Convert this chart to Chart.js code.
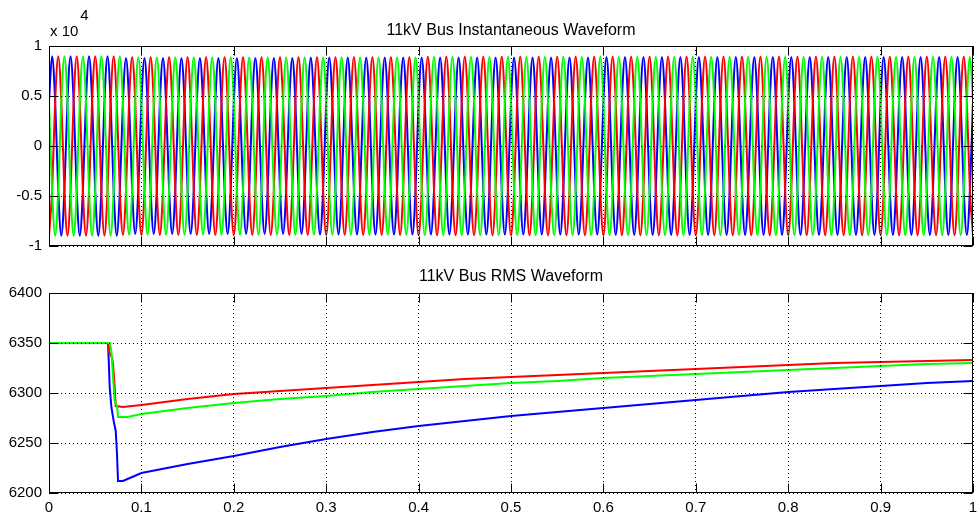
<!DOCTYPE html>
<html>
<head>
<meta charset="utf-8">
<script src="https://cdn.jsdelivr.net/npm/chart.js@4.4.1/dist/chart.umd.min.js"></script>
<style>
  html, body { margin: 0; padding: 0; background: #ffffff; }
  #wrap { position: relative; width: 977px; height: 518px; overflow: hidden; background: #ffffff; }
  canvas { position: absolute; left: 0; }
  #c1 { top: 0; }
  #c2 { top: 260px; }
</style>
</head>
<body>
<div id="wrap">
  <canvas id="c1" width="977" height="262"></canvas>
  <canvas id="c2" width="977" height="258"></canvas>
</div>
<script>
// ---------------- DATA ----------------
const instTitle = '11kV Bus Instantaneous Waveform';
const rmsTitle = '11kV Bus RMS Waveform';
const phaseNames = ['Phase R', 'Phase G', 'Phase B'];

const xTickValues = [0, 0.1, 0.2, 0.3, 0.4, 0.5, 0.6, 0.7, 0.8, 0.9, 1];
const xTickLabels = ['0', '0.1', '0.2', '0.3', '0.4', '0.5', '0.6', '0.7', '0.8', '0.9', '1'];
const instTickValues = [-1, -0.5, 0, 0.5, 1];
const instTickLabels = ['-1', '-0.5', '0', '0.5', '1'];
const instExponent = ['x 10', '4'];
const rmsTickValues = [6200, 6250, 6300, 6350, 6400];
const rmsTickLabels = ['6200', '6250', '6300', '6350', '6400'];

// instantaneous samples (x10^4 V), one sample every 1/300 s (60 deg of a 50 Hz cycle)
const instSampleStep = 1 / 300;
const instRed = [
  -0.898,-0.449,0.449,0.898,0.449,-0.449,-0.898,-0.449,0.449,0.898,0.449,-0.449,
  -0.898,-0.449,0.449,0.898,0.449,-0.449,-0.898,-0.449,0.449,0.898,0.449,-0.449,
  -0.89,-0.445,0.445,0.89,0.445,-0.445,-0.89,-0.445,0.445,0.89,0.445,-0.445,
  -0.89,-0.445,0.445,0.89,0.445,-0.445,-0.89,-0.445,0.445,0.89,0.445,-0.445,
  -0.89,-0.445,0.445,0.89,0.445,-0.445,-0.89,-0.445,0.445,0.89,0.445,-0.445,
  -0.89,-0.445,0.445,0.89,0.445,-0.445,-0.89,-0.445,0.445,0.89,0.445,-0.445,
  -0.89,-0.445,0.445,0.89,0.445,-0.445,-0.89,-0.445,0.445,0.89,0.445,-0.445,
  -0.89,-0.445,0.445,0.89,0.445,-0.445,-0.89,-0.445,0.445,0.89,0.445,-0.445,
  -0.89,-0.445,0.445,0.89,0.445,-0.445,-0.89,-0.445,0.445,0.89,0.445,-0.445,
  -0.89,-0.445,0.445,0.89,0.445,-0.445,-0.89,-0.445,0.445,0.89,0.445,-0.445,
  -0.894,-0.447,0.447,0.894,0.447,-0.447,-0.894,-0.447,0.447,0.894,0.447,-0.447,
  -0.894,-0.447,0.447,0.894,0.447,-0.447,-0.894,-0.447,0.447,0.894,0.447,-0.447,
  -0.894,-0.447,0.447,0.894,0.447,-0.447,-0.894,-0.447,0.447,0.894,0.447,-0.447,
  -0.894,-0.447,0.447,0.894,0.447,-0.447,-0.894,-0.447,0.447,0.894,0.447,-0.447,
  -0.894,-0.447,0.447,0.894,0.447,-0.447,-0.894,-0.447,0.447,0.894,0.447,-0.447,
  -0.894,-0.447,0.447,0.894,0.447,-0.447,-0.894,-0.447,0.447,0.894,0.447,-0.447,
  -0.894,-0.447,0.447,0.894,0.447,-0.447,-0.894,-0.447,0.447,0.894,0.447,-0.447,
  -0.894,-0.447,0.447,0.894,0.447,-0.447,-0.894,-0.447,0.447,0.894,0.447,-0.447,
  -0.894,-0.447,0.447,0.894,0.447,-0.447,-0.894,-0.447,0.447,0.894,0.447,-0.447,
  -0.894,-0.447,0.447,0.894,0.447,-0.447,-0.894,-0.447,0.447,0.894,0.447,-0.447,
  -0.894,-0.447,0.447,0.894,0.447,-0.447,-0.894,-0.447,0.447,0.894,0.447,-0.447,
  -0.894,-0.447,0.447,0.894,0.447,-0.447,-0.894,-0.447,0.447,0.894,0.447,-0.447,
  -0.894,-0.447,0.447,0.894,0.447,-0.447,-0.894,-0.447,0.447,0.894,0.447,-0.447,
  -0.894,-0.447,0.447,0.894,0.447,-0.447,-0.894,-0.447,0.447,0.894,0.447,-0.447,
  -0.894,-0.447,0.447,0.894,0.447,-0.447,-0.894,-0.447,0.447,0.894,0.447,-0.447,
  -0.894
];
const instGreen = [
  0.449,-0.449,-0.898,-0.449,0.449,0.898,0.449,-0.449,-0.898,-0.449,0.449,0.898,
  0.449,-0.449,-0.898,-0.449,0.449,0.898,0.449,-0.449,-0.898,-0.449,0.449,0.898,
  0.444,-0.444,-0.888,-0.444,0.444,0.888,0.444,-0.444,-0.888,-0.444,0.444,0.888,
  0.444,-0.444,-0.888,-0.444,0.444,0.888,0.444,-0.444,-0.888,-0.444,0.444,0.888,
  0.444,-0.444,-0.888,-0.444,0.444,0.888,0.444,-0.444,-0.888,-0.444,0.444,0.888,
  0.444,-0.444,-0.888,-0.444,0.444,0.888,0.444,-0.444,-0.888,-0.444,0.444,0.888,
  0.444,-0.444,-0.888,-0.444,0.444,0.888,0.444,-0.444,-0.888,-0.444,0.444,0.888,
  0.444,-0.444,-0.888,-0.444,0.444,0.888,0.444,-0.444,-0.888,-0.444,0.444,0.888,
  0.444,-0.444,-0.888,-0.444,0.444,0.888,0.444,-0.444,-0.888,-0.444,0.444,0.888,
  0.444,-0.444,-0.888,-0.444,0.444,0.888,0.444,-0.444,-0.888,-0.444,0.444,0.888,
  0.447,-0.447,-0.893,-0.447,0.447,0.893,0.447,-0.447,-0.893,-0.447,0.447,0.893,
  0.447,-0.447,-0.893,-0.447,0.447,0.893,0.447,-0.447,-0.893,-0.447,0.447,0.893,
  0.447,-0.447,-0.893,-0.447,0.447,0.893,0.447,-0.447,-0.893,-0.447,0.447,0.893,
  0.447,-0.447,-0.893,-0.447,0.447,0.893,0.447,-0.447,-0.893,-0.447,0.447,0.893,
  0.447,-0.447,-0.893,-0.447,0.447,0.893,0.447,-0.447,-0.893,-0.447,0.447,0.893,
  0.447,-0.447,-0.893,-0.447,0.447,0.893,0.447,-0.447,-0.893,-0.447,0.447,0.893,
  0.447,-0.447,-0.893,-0.447,0.447,0.893,0.447,-0.447,-0.893,-0.447,0.447,0.893,
  0.447,-0.447,-0.893,-0.447,0.447,0.893,0.447,-0.447,-0.893,-0.447,0.447,0.893,
  0.447,-0.447,-0.893,-0.447,0.447,0.893,0.447,-0.447,-0.893,-0.447,0.447,0.893,
  0.447,-0.447,-0.893,-0.447,0.447,0.893,0.447,-0.447,-0.893,-0.447,0.447,0.893,
  0.447,-0.447,-0.893,-0.447,0.447,0.893,0.447,-0.447,-0.893,-0.447,0.447,0.893,
  0.447,-0.447,-0.893,-0.447,0.447,0.893,0.447,-0.447,-0.893,-0.447,0.447,0.893,
  0.447,-0.447,-0.893,-0.447,0.447,0.893,0.447,-0.447,-0.893,-0.447,0.447,0.893,
  0.447,-0.447,-0.893,-0.447,0.447,0.893,0.447,-0.447,-0.893,-0.447,0.447,0.893,
  0.447,-0.447,-0.893,-0.447,0.447,0.893,0.447,-0.447,-0.893,-0.447,0.447,0.893,
  0.447
];
const instBlue = [
  0.449,0.898,0.449,-0.449,-0.898,-0.449,0.449,0.898,0.449,-0.449,-0.898,-0.449,
  0.449,0.898,0.449,-0.449,-0.898,-0.449,0.449,0.898,0.449,-0.449,-0.898,-0.449,
  0.44,0.88,0.44,-0.44,-0.88,-0.44,0.44,0.88,0.44,-0.44,-0.88,-0.44,
  0.44,0.88,0.44,-0.44,-0.88,-0.44,0.44,0.88,0.44,-0.44,-0.88,-0.44,
  0.44,0.88,0.44,-0.44,-0.88,-0.44,0.44,0.88,0.44,-0.44,-0.88,-0.44,
  0.44,0.88,0.44,-0.44,-0.88,-0.44,0.44,0.88,0.44,-0.44,-0.88,-0.44,
  0.44,0.88,0.44,-0.44,-0.88,-0.44,0.44,0.88,0.44,-0.44,-0.88,-0.44,
  0.443,0.886,0.443,-0.443,-0.886,-0.443,0.443,0.886,0.443,-0.443,-0.886,-0.443,
  0.443,0.886,0.443,-0.443,-0.886,-0.443,0.443,0.886,0.443,-0.443,-0.886,-0.443,
  0.443,0.886,0.443,-0.443,-0.886,-0.443,0.443,0.886,0.443,-0.443,-0.886,-0.443,
  0.443,0.886,0.443,-0.443,-0.886,-0.443,0.443,0.886,0.443,-0.443,-0.886,-0.443,
  0.443,0.886,0.443,-0.443,-0.886,-0.443,0.443,0.886,0.443,-0.443,-0.886,-0.443,
  0.443,0.886,0.443,-0.443,-0.886,-0.443,0.443,0.886,0.443,-0.443,-0.886,-0.443,
  0.443,0.886,0.443,-0.443,-0.886,-0.443,0.443,0.886,0.443,-0.443,-0.886,-0.443,
  0.443,0.886,0.443,-0.443,-0.886,-0.443,0.443,0.886,0.443,-0.443,-0.886,-0.443,
  0.446,0.891,0.446,-0.446,-0.891,-0.446,0.446,0.891,0.446,-0.446,-0.891,-0.446,
  0.446,0.891,0.446,-0.446,-0.891,-0.446,0.446,0.891,0.446,-0.446,-0.891,-0.446,
  0.446,0.891,0.446,-0.446,-0.891,-0.446,0.446,0.891,0.446,-0.446,-0.891,-0.446,
  0.446,0.891,0.446,-0.446,-0.891,-0.446,0.446,0.891,0.446,-0.446,-0.891,-0.446,
  0.446,0.891,0.446,-0.446,-0.891,-0.446,0.446,0.891,0.446,-0.446,-0.891,-0.446,
  0.446,0.891,0.446,-0.446,-0.891,-0.446,0.446,0.891,0.446,-0.446,-0.891,-0.446,
  0.446,0.891,0.446,-0.446,-0.891,-0.446,0.446,0.891,0.446,-0.446,-0.891,-0.446,
  0.446,0.891,0.446,-0.446,-0.891,-0.446,0.446,0.891,0.446,-0.446,-0.891,-0.446,
  0.446,0.891,0.446,-0.446,-0.891,-0.446,0.446,0.891,0.446,-0.446,-0.891,-0.446,
  0.446,0.891,0.446,-0.446,-0.891,-0.446,0.446,0.891,0.446,-0.446,-0.891,-0.446,
  0.446
];

// RMS waveform (V) per phase
const rmsRedTime = [0, 0.064, 0.065, 0.068, 0.0693, 0.0711, 0.0722, 0.08, 0.09, 0.1, 0.15, 0.2, 0.25, 0.3, 0.35, 0.4, 0.45, 0.5, 0.55, 0.6, 0.65, 0.7, 0.75, 0.8, 0.85, 0.9, 0.95, 1.0];
const rmsRed     = [6350, 6350, 6341, 6336, 6329, 6306, 6287, 6286, 6287, 6288, 6294, 6299, 6302, 6305, 6308, 6311, 6314, 6316, 6318, 6320, 6322, 6324, 6326, 6328, 6330, 6331, 6332, 6333];
const rmsGreenTime = [0, 0.0657, 0.0675, 0.0693, 0.0711, 0.0736, 0.0747, 0.085, 0.1, 0.15, 0.2, 0.25, 0.3, 0.35, 0.4, 0.45, 0.5, 0.55, 0.6, 0.65, 0.7, 0.75, 0.8, 0.85, 0.9, 0.95, 1.0];
const rmsGreen     = [6350, 6350, 6342, 6316, 6292, 6287, 6276, 6276, 6279, 6285, 6290, 6294, 6297, 6301, 6304, 6307, 6310, 6312, 6315, 6317, 6319, 6321, 6323, 6325, 6327, 6329, 6330];
const rmsBlueTime = [0, 0.0639, 0.0645, 0.0657, 0.0675, 0.070, 0.0722, 0.0736, 0.0747, 0.08, 0.09, 0.1, 0.15, 0.2, 0.25, 0.3, 0.35, 0.4, 0.45, 0.5, 0.55, 0.6, 0.65, 0.7, 0.75, 0.8, 0.85, 0.9, 0.95, 1.0];
const rmsBlue     = [6350, 6350, 6336, 6306, 6286, 6272, 6262, 6239, 6212, 6212, 6216, 6220, 6229, 6237, 6246, 6254, 6261, 6267, 6272, 6277, 6281, 6285, 6289, 6293, 6297, 6301, 6304, 6307, 6310, 6312];

// ---------------- RENDERING ----------------
const FONT = '"Liberation Sans", Arial, sans-serif';
const RED = '#ff0000', GREEN = '#00ff00', BLUE = '#0000ff';

const matlabBox = {
  id: 'matlabBox',
  afterDraw(chart) {
    const { ctx, chartArea: a, scales } = chart;
    const L = Math.round(a.left) + 0.5, R = Math.round(a.right) - 0.5;
    const T = Math.round(a.top) + 0.5, B = Math.round(a.bottom) - 0.5;
    const tl = 9;
    ctx.save();
    ctx.setLineDash([]);
    ctx.strokeStyle = '#000';
    ctx.lineWidth = 1;
    ctx.beginPath();
    scales.x.ticks.forEach(t => {
      const px = Math.round(scales.x.getPixelForValue(t.value)) + 0.5;
      ctx.moveTo(px, T); ctx.lineTo(px, T + tl);
      ctx.moveTo(px, B); ctx.lineTo(px, B - tl);
    });
    scales.y.ticks.forEach(t => {
      const py = Math.round(scales.y.getPixelForValue(t.value)) + 0.5;
      ctx.moveTo(L, py); ctx.lineTo(L + tl, py);
      ctx.moveTo(R, py); ctx.lineTo(R - tl, py);
    });
    ctx.stroke();
    ctx.strokeRect(L, T, R - L, B - T);
    ctx.restore();
  }
};

const exponentLabel = {
  id: 'exponentLabel',
  afterDraw(chart) {
    const { ctx, chartArea: a } = chart;
    ctx.save();
    ctx.fillStyle = '#000';
    ctx.font = '15px ' + FONT;
    ctx.textAlign = 'left';
    ctx.textBaseline = 'middle';
    const x0 = a.left + 1;
    ctx.fillText(instExponent[0], x0, a.top - 14);
    const w = ctx.measureText(instExponent[0]).width;
    ctx.fillText(instExponent[1], x0 + w + 2, a.top - 30);
    ctx.restore();
  }
};

function buildOptions(cfg) {
  const gridCommon = { color: '#000', lineWidth: 1, drawTicks: false, z: 1 };
  const borderCommon = { display: false, dash: [1, 3] };
  return {
    responsive: false,
    animation: false,
    devicePixelRatio: 1,
    events: [],
    layout: { padding: { left: 0, right: 4, top: 0, bottom: 0 } },
    plugins: {
      legend: { display: false },
      tooltip: { enabled: false },
      title: {
        display: true, text: cfg.title, color: '#000', fullSize: false,
        font: { family: FONT, size: 16, weight: 'normal', lineHeight: 1.2 },
        padding: cfg.titlePad
      }
    },
    elements: { point: { radius: 0 }, line: { tension: 0 } },
    scales: {
      x: {
        type: 'linear', min: 0, max: 1,
        afterBuildTicks: s => { s.ticks = xTickValues.map(v => ({ value: v })); },
        afterFit: s => { s.height = cfg.xAxisHeight; s.paddingLeft = 0; s.paddingRight = 0; },
        grid: gridCommon,
        border: borderCommon,
        ticks: {
          display: cfg.showXLabels, autoSkip: false, maxRotation: 0, padding: 6,
          color: '#000', font: { family: FONT, size: 15 },
          callback: (v, i) => xTickLabels[i]
        }
      },
      y: {
        type: 'linear', min: cfg.yMin, max: cfg.yMax,
        afterBuildTicks: s => { s.ticks = cfg.yTickValues.map(v => ({ value: v })); },
        afterFit: s => { s.width = 49; s.paddingTop = 0; s.paddingBottom = 0; },
        grid: gridCommon,
        border: borderCommon,
        ticks: {
          autoSkip: false, padding: 7, color: '#000', font: { family: FONT, size: 15 },
          callback: (v, i) => cfg.yTickLabels[i]
        }
      }
    }
  };
}

const toXY = (xs, ys) => ys.map((y, i) => ({ x: xs[i], y }));
const toSampled = ys => ys.map((y, i) => ({ x: i * instSampleStep, y }));

new Chart(document.getElementById('c1'), {
  type: 'line',
  data: {
    datasets: [
      { label: phaseNames[0], data: toSampled(instRed), borderColor: RED, borderWidth: 2, cubicInterpolationMode: 'monotone', order: 1 },
      { label: phaseNames[1], data: toSampled(instGreen), borderColor: GREEN, borderWidth: 2, cubicInterpolationMode: 'monotone', order: 0 },
      { label: phaseNames[2], data: toSampled(instBlue), borderColor: BLUE, borderWidth: 2, cubicInterpolationMode: 'monotone', order: 2 }
    ]
  },
  options: buildOptions({
    title: instTitle, titlePad: { top: 21, bottom: 5.8 }, xAxisHeight: 16, showXLabels: false,
    yMin: -1, yMax: 1, yTickValues: instTickValues, yTickLabels: instTickLabels
  }),
  plugins: [matlabBox, exponentLabel]
});

new Chart(document.getElementById('c2'), {
  type: 'line',
  data: {
    datasets: [
      { label: phaseNames[0], data: toXY(rmsRedTime, rmsRed), borderColor: RED, borderWidth: 2, order: 1 },
      { label: phaseNames[1], data: toXY(rmsGreenTime, rmsGreen), borderColor: GREEN, borderWidth: 2, order: 0 },
      { label: phaseNames[2], data: toXY(rmsBlueTime, rmsBlue), borderColor: BLUE, borderWidth: 2, order: 2 }
    ]
  },
  options: buildOptions({
    title: rmsTitle, titlePad: { top: 7.1, bottom: 6.7 }, xAxisHeight: 25, showXLabels: true,
    yMin: 6200, yMax: 6400, yTickValues: rmsTickValues, yTickLabels: rmsTickLabels
  }),
  plugins: [matlabBox]
});
</script>
</body>
</html>
